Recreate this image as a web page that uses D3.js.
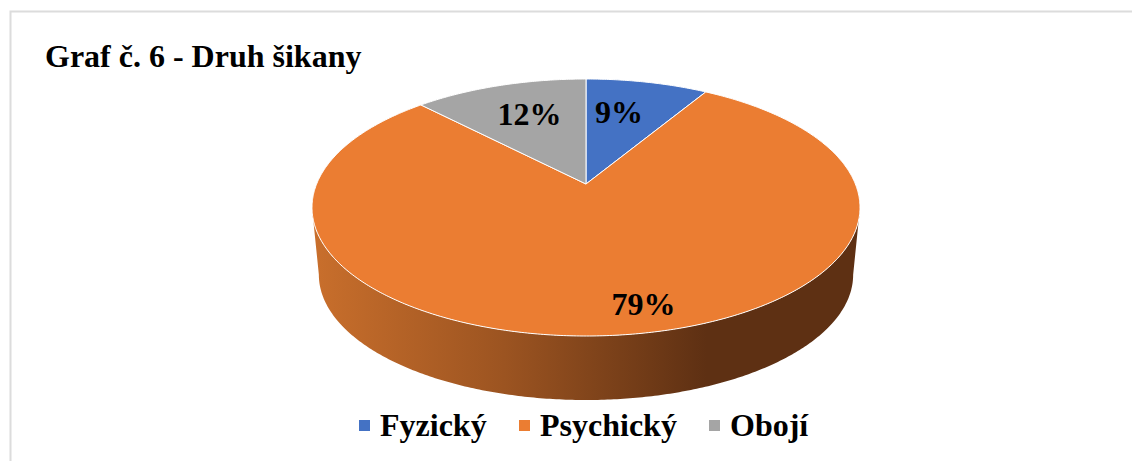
<!DOCTYPE html>
<html>
<head>
<meta charset="utf-8">
<script src="https://cdn.jsdelivr.net/npm/d3@7"></script>
<style>
  html, body { margin: 0; padding: 0; background: #fff; overflow: hidden; }
  text { font-family: "Liberation Serif", serif; font-weight: bold; fill: #000; }
</style>
</head>
<body>
<svg id="chart" width="1132" height="461"></svg>
<script>
// Data
const categories = ["Fyzický", "Psychický", "Obojí"];
const shares = [8.6, 79.2, 12.2]; // labels round them
const colors = ["#4472c4", "#eb7d32", "#a5a5a5"];

// Layout
const cx = 586, topY = 79, apexY = 184, bottomY = 336, halfWidth = 274;
const baseBottomY = 400, baseScale = 0.975; // the base ellipse is a bit smaller

// Label placement, in pie space
const labelRadius = [0.66, 0.84, 0.67];
const labelNudge = [-3.5, -6, 1.5]; // degrees

// Perspective: the flat pie is tilted away, so the apex sits above the ellipse centre
const C = (2 * apexY - topY - bottomY) / (bottomY - topY);
const A = bottomY * (1 + C) - apexY;
const R = halfWidth * Math.sqrt(1 - C * C);
const rimCy = (topY + bottomY) / 2;
const baseCy = baseBottomY - ((bottomY - topY) / 2) * baseScale;

function project(angle, r = 1) {
  const v = -Math.cos(angle) * r; // up is negative
  const w = 1 + C * v;
  return [cx + (R * r * Math.sin(angle)) / w, (A * v + apexY) / w];
}

function arcPoints(a0, a1, step = 0.01) {
  return d3.range(a0, a1, step).concat([a1]).map((a) => project(a));
}

const svg = d3.select("#chart");
const line = d3.line();

// Frame
svg.append("rect")
  .attr("x", 10.5).attr("y", 11.5)
  .attr("width", 1300).attr("height", 700)
  .attr("fill", "#fff")
  .attr("stroke", "#dcdcdc")
  .attr("stroke-width", 2);

// Title
svg.append("text")
  .attr("x", 45).attr("y", 67)
  .style("font-size", "32px")
  .text("Graf č. 6 - Druh šikany");

// Side wall
const gradient = svg.append("defs").append("linearGradient")
  .attr("id", "wallShade")
  .attr("gradientUnits", "userSpaceOnUse")
  .attr("x1", cx - halfWidth).attr("x2", cx + halfWidth)
  .attr("y1", 0).attr("y2", 0);
gradient.selectAll("stop")
  .data([[0, "#c96f2c"], [0.35, "#9c5421"], [0.72, "#5e3013"], [1, "#5e3013"]])
  .join("stop")
  .attr("offset", (d) => d[0])
  .attr("stop-color", (d) => d[1]);

// Rim tangents are where the projected x peaks
const tangent = Math.acos(-C);
const rim = arcPoints(Math.PI - tangent, Math.PI + tangent);
const base = rim.map((p) => [
  cx + (p[0] - cx) * baseScale,
  baseCy + (p[1] - rimCy) * baseScale,
]);
svg.append("path")
  .attr("d", line(rim.concat(base.reverse())) + "Z")
  .attr("fill", "url(#wallShade)");

// Top face
const pie = d3.pie().sort(null)(shares);
svg.selectAll("path.slice")
  .data(pie)
  .join("path")
  .attr("class", "slice")
  .attr("d", (d) => line([project(0, 0)].concat(arcPoints(d.startAngle, d.endAngle))) + "Z")
  .attr("fill", (d, i) => colors[i])
  .attr("stroke", "#fff")
  .attr("stroke-width", 1)
  .attr("stroke-linejoin", "round");

// Percent labels
svg.selectAll("text.pct")
  .data(pie)
  .join("text")
  .attr("class", "pct")
  .attr("text-anchor", "middle")
  .attr("dy", "0.35em")
  .style("font-size", "32px")
  .attr("transform", (d, i) => {
    const mid = (d.startAngle + d.endAngle) / 2 + (labelNudge[i] * Math.PI) / 180;
    return `translate(${project(mid, labelRadius[i])})`;
  })
  .text((d) => `${Math.round(d.value)}%`);

// Legend
const legendX = [359, 519, 709];
const legend = svg.selectAll("g.legend")
  .data(categories)
  .join("g")
  .attr("class", "legend")
  .attr("transform", (d, i) => `translate(${legendX[i]},420)`);
legend.append("rect")
  .attr("width", 11).attr("height", 11)
  .attr("fill", (d, i) => colors[i]);
legend.append("text")
  .attr("x", 21).attr("y", 16)
  .style("font-size", "32px")
  .text((d) => d);
</script>
</body>
</html>
